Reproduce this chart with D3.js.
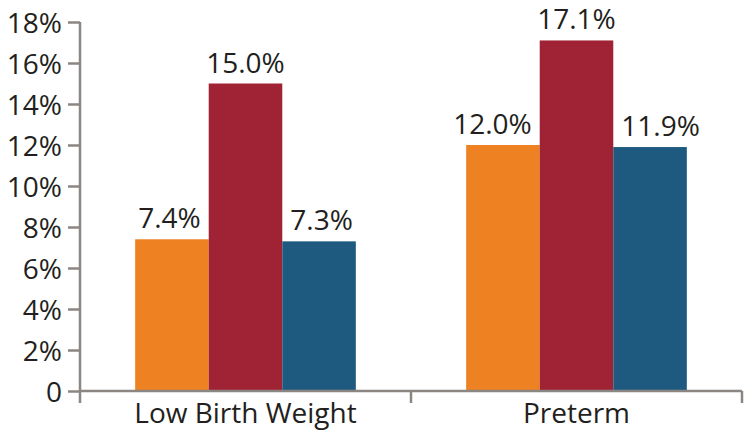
<!DOCTYPE html>
<html><head><meta charset="utf-8">
<script src="https://cdn.jsdelivr.net/npm/d3@7"></script>
<style>body{margin:0;background:#fff}svg{display:block}</style>
</head><body>
<svg id="c" width="749" height="432"></svg>
<script>
const categories = ["Low Birth Weight", "Preterm"];
const seriesNames = ["Series A", "Series B", "Series C"];
const seriesColors = ["#ee8122", "#9f2335", "#1e5a80"];
const valuesA = [7.4, 12.0];
const valuesB = [15.0, 17.1];
const valuesC = [7.3, 11.9];
const yTicks = [0, 2, 4, 6, 8, 10, 12, 14, 16, 18];
const yTickLabels = ["0", "2%", "4%", "6%", "8%", "10%", "12%", "14%", "16%", "18%"];

const seriesValues = [valuesA, valuesB, valuesC];
const svg = d3.select("#c");
const font = "'Open Sans', sans-serif";
const fontSize = 28;
const textColor = "#231f20";
const axisColor = "#8c8683";

const x0 = 80, x1 = 742, yTop = 22, yBot = 391;
const x = d3.scaleBand().domain(categories).range([x0, x1]).paddingInner(0).paddingOuter(0);
const xs = d3.scaleBand().domain(seriesNames).range([0, x.bandwidth()]).paddingInner(0).paddingOuter(0.75);
const y = d3.scaleLinear().domain([0, 18]).range([yBot, yTop]);

// bars
const data = [];
categories.forEach((c, i) => seriesNames.forEach((s, j) => data.push({c, s, j, v: seriesValues[j][i]})));
svg.append("g").selectAll("rect").data(data).join("rect")
  .attr("x", d => x(d.c) + xs(d.s))
  .attr("y", d => y(d.v))
  .attr("width", xs.bandwidth())
  .attr("height", d => y(0) - y(d.v))
  .attr("fill", d => seriesColors[d.j]);

// value labels (outer labels nudged outward to keep a gap from the middle bar)
const gap = 8;
svg.append("g").selectAll("text").data(data).join("text")
  .attr("y", d => y(d.v) - 11)
  .attr("text-anchor", "middle")
  .attr("font-family", font).attr("font-size", fontSize).attr("fill", textColor)
  .text(d => d.v.toFixed(1) + "%")
  .attr("x", function(d) {
    const left = x(d.c) + xs(d.s), w = xs.bandwidth(), c = left + w / 2;
    const tw = this.getComputedTextLength();
    if (d.j === 0) return Math.min(c, left + w - gap - tw / 2);
    if (d.j === 2) return Math.max(c, left + gap + tw / 2);
    return c;
  });

// y axis
const yAxis = d3.axisLeft(y).tickValues(yTicks).tickSize(12).tickPadding(6)
  .tickFormat((d, i) => yTickLabels[i]);
const gy = svg.append("g").attr("transform", `translate(${x0},0)`).call(yAxis);
gy.select(".domain").attr("d", `M0,${yTop}V${yBot + 12}`).attr("stroke", axisColor).attr("stroke-width", 2.5);
gy.selectAll(".tick line").attr("stroke", axisColor).attr("stroke-width", 2.5);
gy.selectAll(".tick text").attr("font-family", font).attr("font-size", fontSize).attr("fill", textColor).attr("dy", "0.36em");

// x axis
const gx = svg.append("g").attr("transform", `translate(0,${yBot})`);
gx.append("line").attr("x1", x0).attr("x2", x1).attr("y1", 0).attr("y2", 0)
  .attr("stroke", axisColor).attr("stroke-width", 2.5);
const bounds = categories.map(c => x(c)).concat([x1]);
gx.selectAll("line.tk").data(bounds.slice(1)).join("line").attr("class", "tk")
  .attr("x1", d => d).attr("x2", d => d).attr("y1", 0).attr("y2", 12)
  .attr("stroke", axisColor).attr("stroke-width", 2.5);
gx.selectAll("text").data(categories).join("text")
  .attr("x", d => x(d) + x.bandwidth() / 2)
  .attr("y", 32)
  .attr("text-anchor", "middle")
  .attr("font-family", font).attr("font-size", fontSize).attr("fill", textColor)
  .text(d => d);
</script>
</body></html>
